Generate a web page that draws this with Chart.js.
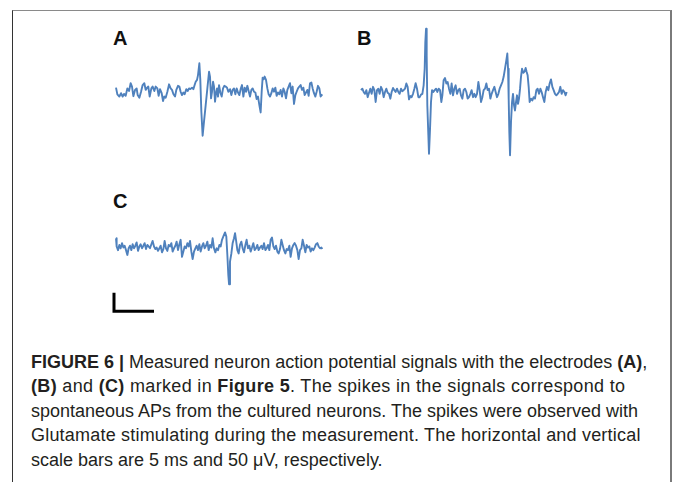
<!DOCTYPE html>
<html>
<head>
<meta charset="utf-8">
<script src="https://cdn.jsdelivr.net/npm/chart.js@4.4.1/dist/chart.umd.min.js"></script>
<style>
  html, body { margin: 0; padding: 0; background: #fff; }
  #page { position: relative; width: 675px; height: 482px; overflow: hidden; }
  #frame { position: absolute; left: 12px; top: 10px; width: 657px; height: 480px;
           border-top: 1px solid #8a8a8a; border-left: 1px solid #333; border-right: 2px solid #7a7a7a; }
  canvas { position: absolute; }
  .lbl { position: absolute; font: bold 20px "Liberation Sans", Arial, sans-serif; line-height: 20px; color: #111; }
  #caption { position: absolute; left: 31px; top: 349.5px; white-space: nowrap;
             font: 18px "Liberation Sans", Arial, sans-serif; line-height: 24.5px; color: #231f20; }
  #caption b { font-weight: bold; }
  #caption span { display: block; }
</style>
</head>
<body>
<div id="page">
  <div id="frame"></div>
  <div class="lbl" style="left:113px; top:27.5px;">A</div>
  <div class="lbl" style="left:357px; top:27.5px;">B</div>
  <div class="lbl" style="left:113px; top:190.5px;">C</div>
  <canvas id="chartA" width="216" height="90" style="left:110px; top:52px;"></canvas>
  <canvas id="chartB" width="220" height="140" style="left:352px; top:20px;"></canvas>
  <canvas id="chartC" width="230" height="100" style="left:104px; top:220px;"></canvas>
  <div id="caption">
    <span><b>FIGURE 6 |</b> Measured neuron action potential signals with the electrodes <b>(A)</b>,</span>
    <span style="letter-spacing:0.33px;"><b>(B)</b> and <b>(C)</b> marked in <b>Figure 5</b>. The spikes in the signals correspond to</span>
    <span><span style="display:inline;">spontaneous APs from the cultured neurons. The spikes were observed with</span></span>
    <span style="letter-spacing:0.2px;">Glutamate stimulating during the measurement. The horizontal and vertical</span>
    <span>scale bars are 5 ms and 50 μV, respectively.</span>
  </div>
</div>
<script>
// Signals: time in ms, potential in µV

const timeA = [0, 0.17, 0.42, 0.63, 0.83, 1.00, 1.21, 1.42, 1.63, 1.83, 2.00, 2.17, 2.38, 2.58, 2.71, 2.92, 3.13, 3.33, 3.54, 3.71,
    3.88, 4.04, 4.21, 4.42, 4.58, 4.79, 4.96, 5.17, 5.33, 5.50, 5.71, 5.88, 6.04, 6.21, 6.42, 6.63, 6.83, 7.00, 7.17, 7.38,
    7.54, 7.75, 7.92, 8.08, 8.25, 8.42, 8.58, 8.79, 8.96, 9.13, 9.29, 9.50, 9.67, 9.83, 9.96, 10.13, 10.25, 10.42, 10.54, 10.67,
    10.83, 11.00, 11.21, 11.42, 11.63, 11.75, 11.88, 12.00, 12.13, 12.25, 12.38, 12.50, 12.63, 12.75, 12.88, 13.04, 13.21, 13.38, 13.54, 13.71,
    13.88, 14.04, 14.25, 14.42, 14.58, 14.75, 14.92, 15.08, 15.25, 15.42, 15.58, 15.75, 15.92, 16.08, 16.25, 16.42, 16.58, 16.75, 16.92, 17.08,
    17.25, 17.42, 17.58, 17.75, 17.92, 18.08, 18.21, 18.33, 18.46, 18.58, 18.75, 18.92, 19.08, 19.25, 19.42, 19.58, 19.75, 19.92, 20.08, 20.25,
    20.42, 20.58, 20.75, 20.92, 21.08, 21.25, 21.42, 21.58, 21.75, 21.92, 22.08, 22.25, 22.42, 22.58, 22.75, 22.92, 23.08, 23.25, 23.42, 23.58,
    23.75, 23.92, 24.08, 24.25, 24.42, 24.58, 24.75, 24.92, 25.08, 25.25, 25.42, 25.58, 25.79];
const signalA = [9, -9, -15, -6, -15, -8, -13, 7, 0, 21, 12, -14, 3, 7, -11, -18, -2, 16, 21, 3,
    9, 12, -15, 7, 12, 0, 12, 7, -13, 5, -6, -27, -15, -18, -2, 18, 7, 3, -8, -15,
    3, 14, 12, -2, -11, -4, -9, 5, 0, 7, 5, 9, 5, 16, 25, 30, 43, 75, 30, -56,
    -121, -83, -38, 7, 52, 39, -20, -2, 25, 12, -29, -6, 7, -15, 16, -4, -15, 7, 14, 12,
    9, -2, 5, -11, 3, 7, -9, 7, -4, -11, 5, 16, -15, 9, -2, 14, 0, -15, 3, 7,
    -2, -4, -22, -15, -38, -58, -2, 36, 32, 39, 30, 7, -9, -15, -6, 7, -2, 9, -13, -4,
    -9, 3, -15, 7, -2, -20, 3, 12, 21, -6, 12, -35, -11, -2, 7, 12, 16, 3, 9, -11,
    -4, 3, -13, 21, 23, 7, -6, -15, -2, 14, 7, -15, -9];

const timeB = [0, 0.17, 0.33, 0.50, 0.67, 0.83, 1.00, 1.17, 1.33, 1.50, 1.67, 1.83, 2.00, 2.17, 2.33, 2.50, 2.67, 2.83, 3.00, 3.17,
    3.33, 3.50, 3.67, 3.83, 4.00, 4.17, 4.33, 4.50, 4.67, 4.83, 5.00, 5.17, 5.33, 5.50, 5.67, 5.83, 6.00, 6.17, 6.33, 6.50,
    6.67, 6.83, 7.00, 7.17, 7.33, 7.50, 7.67, 7.83, 7.96, 8.04, 8.13, 8.21, 8.29, 8.42, 8.50, 8.63, 8.75, 8.88, 9.04, 9.21,
    9.38, 9.54, 9.71, 9.88, 10.04, 10.17, 10.33, 10.50, 10.67, 10.83, 11.00, 11.17, 11.33, 11.50, 11.67, 11.83, 12.00, 12.17, 12.33, 12.50,
    12.67, 12.83, 13.00, 13.17, 13.33, 13.50, 13.67, 13.83, 14.00, 14.17, 14.33, 14.50, 14.67, 14.83, 15.00, 15.17, 15.33, 15.50, 15.67, 15.83,
    16.00, 16.17, 16.33, 16.50, 16.67, 16.83, 17.00, 17.17, 17.33, 17.50, 17.67, 17.83, 18.00, 18.17, 18.29, 18.38, 18.46, 18.54, 18.63, 18.75,
    18.88, 19.00, 19.13, 19.25, 19.38, 19.50, 19.63, 19.75, 19.88, 20.00, 20.13, 20.29, 20.46, 20.58, 20.71, 20.83, 20.96, 21.08, 21.25, 21.42,
    21.58, 21.75, 21.92, 22.08, 22.25, 22.42, 22.58, 22.75, 22.92, 23.08, 23.25, 23.42, 23.58, 23.75, 23.92, 24.08, 24.25, 24.42, 24.58, 24.75,
    24.92, 25.08, 25.25, 25.42, 25.58, 25.71];
const signalB = [5, 9, 0, -5, 5, -14, -2, 9, -5, 14, 5, -27, 5, 9, -5, 14, 5, -14, 0, 9,
    -2, -5, -18, 0, 11, 5, 0, 9, 0, -5, 9, 2, 5, 9, 23, 14, -20, -11, -14, -5,
    9, 24, 9, -14, -14, -7, -5, 18, 63, 135, 171, 99, -36, -117, -167, -99, -27, 5, 0, 5,
    9, 0, 9, 5, -27, -9, 32, 38, 23, 27, 9, -5, 23, -9, 9, 18, -5, 5, 9, -9,
    -18, 5, 9, 0, -18, -14, -5, 5, -14, -5, -14, -5, 27, 5, -27, -14, 5, 9, 23, 5,
    9, -18, -5, 5, 14, 0, -14, -5, 9, 18, 27, 41, 63, 86, 104, 63, -18, -108, -171, -81,
    -27, -5, -36, -50, -27, -9, -32, -18, 9, 41, 63, 52, 56, 65, 54, 45, 14, -27, -18, -23,
    -14, -18, 5, 9, -5, 9, 0, -14, -27, 0, 14, 5, 23, 34, 14, 5, -5, -9, -5, 0,
    14, -5, 5, 0, -9, 0];

const timeC = [0, 0.08, 0.25, 0.42, 0.58, 0.75, 0.92, 1.08, 1.25, 1.42, 1.58, 1.75, 1.92, 2.08, 2.25, 2.42, 2.58, 2.75, 2.92, 3.08,
    3.25, 3.42, 3.58, 3.75, 3.92, 4.08, 4.25, 4.42, 4.58, 4.75, 4.92, 5.08, 5.25, 5.42, 5.58, 5.75, 5.92, 6.08, 6.25, 6.42,
    6.58, 6.75, 6.92, 7.08, 7.25, 7.42, 7.58, 7.75, 7.92, 8.08, 8.25, 8.42, 8.58, 8.75, 8.92, 9.08, 9.25, 9.42, 9.58, 9.75,
    9.92, 10.08, 10.25, 10.42, 10.58, 10.75, 10.92, 11.08, 11.25, 11.42, 11.58, 11.75, 11.92, 12.08, 12.25, 12.42, 12.58, 12.75, 12.92, 13.08,
    13.25, 13.42, 13.63, 13.79, 13.92, 14.04, 14.13, 14.25, 14.42, 14.58, 14.75, 14.88, 15.00, 15.17, 15.33, 15.50, 15.67, 15.83, 16.00, 16.17,
    16.33, 16.50, 16.67, 16.83, 17.00, 17.17, 17.33, 17.50, 17.67, 17.83, 18.00, 18.17, 18.33, 18.50, 18.67, 18.83, 19.00, 19.17, 19.33, 19.50,
    19.67, 19.83, 20.00, 20.17, 20.33, 20.50, 20.67, 20.83, 21.00, 21.17, 21.33, 21.50, 21.67, 21.83, 22.00, 22.17, 22.33, 22.50, 22.67, 22.83,
    23.00, 23.17, 23.33, 23.50, 23.67, 23.83, 24.00, 24.17, 24.33, 24.50, 24.67, 24.83, 25.00, 25.17, 25.33, 25.50, 25.67, 25.79];
const signalC = [27, 5, -5, 9, 0, 14, 2, 7, -5, -18, 0, 7, -5, 11, 0, 7, 16, -7, 5, 11,
    0, 7, 14, -2, 9, 5, 0, 11, 20, 5, -2, 2, -7, 0, 7, -11, -2, 20, 0, -7,
    9, 5, 14, -9, 0, 7, 18, -5, 11, 23, -23, -9, 5, 0, 14, 5, 20, -9, -29, -9,
    0, 7, -5, 11, -9, 5, 14, 0, 7, 18, -5, 9, 2, 27, 0, -11, 0, -5, 9, 5,
    23, 32, 43, 32, -18, -72, -97, -36, -14, 14, 27, 41, 23, -5, -14, 9, 18, 0, -11, 9,
    23, 0, 7, -9, 2, 14, -5, 0, 9, -5, 2, 7, -2, 14, -5, 0, 9, -5, 23, 29,
    5, -2, 7, -9, -14, -2, 23, 9, -5, -14, -2, -5, 7, -23, 0, 9, 14, 7, -5, -29,
    -5, 0, 23, 7, -11, 9, 2, 5, -9, 0, -5, 2, 11, 14, 5, 0, 2, -2];

// scale bars: 5 ms horizontal, 50 µV vertical
const barMs = 5;
const barUv = 50;

const TRACE_COLOR = '#4f81bd';
const PX_PER_MS = 8;
const PX_PER_UV = 0.37;

function toPoints(t, v) {
    return t.map((x, i) => ({ x: x, y: v[i] }));
}

function traceDataset(t, v) {
    return {
        data: toPoints(t, v),
        borderColor: TRACE_COLOR,
        borderWidth: 1.9,
        pointRadius: 0,
        tension: 0,
        fill: false,
        clip: false,
        borderJoinStyle: 'round'
    };
}

// originX/originY: page pixel where t = 0, v = 0 sits
function renderPanel(id, originX, originY, datasets) {
    const canvas = document.getElementById(id);
    const left = parseFloat(canvas.style.left);
    const top = parseFloat(canvas.style.top);
    const xMin = (left - originX) / PX_PER_MS;
    const yMax = (originY - top) / PX_PER_UV;

    new Chart(canvas, {
        type: 'line',
        data: { datasets: datasets },
        options: {
            responsive: false,
            animation: false,
            events: [],
            layout: { padding: 0 },
            plugins: {
                legend: { display: false },
                tooltip: { enabled: false }
            },
            scales: {
                x: { type: 'linear', display: false, min: xMin, max: xMin + canvas.width / PX_PER_MS },
                y: { type: 'linear', display: false, max: yMax, min: yMax - canvas.height / PX_PER_UV }
            }
        }
    });
}

renderPanel('chartA', 116, 91, [traceDataset(timeA, signalA)]);
renderPanel('chartB', 361, 92, [traceDataset(timeB, signalB)]);

// scale bar sits below trace C, anchored at t = -0.25 ms, v = -170 µV
const barT0 = -0.25, barV0 = -170;
renderPanel('chartC', 116, 248.3, [
    traceDataset(timeC, signalC),
    {
        data: [
            { x: barT0, y: barV0 + barUv },
            { x: barT0, y: barV0 },
            { x: barT0 + barMs, y: barV0 }
        ],
        borderColor: '#000',
        borderWidth: 3,
        borderJoinStyle: 'miter',
        borderCapStyle: 'butt',
        pointRadius: 0,
        tension: 0,
        clip: false
    }
]);
</script>
</body>
</html>
